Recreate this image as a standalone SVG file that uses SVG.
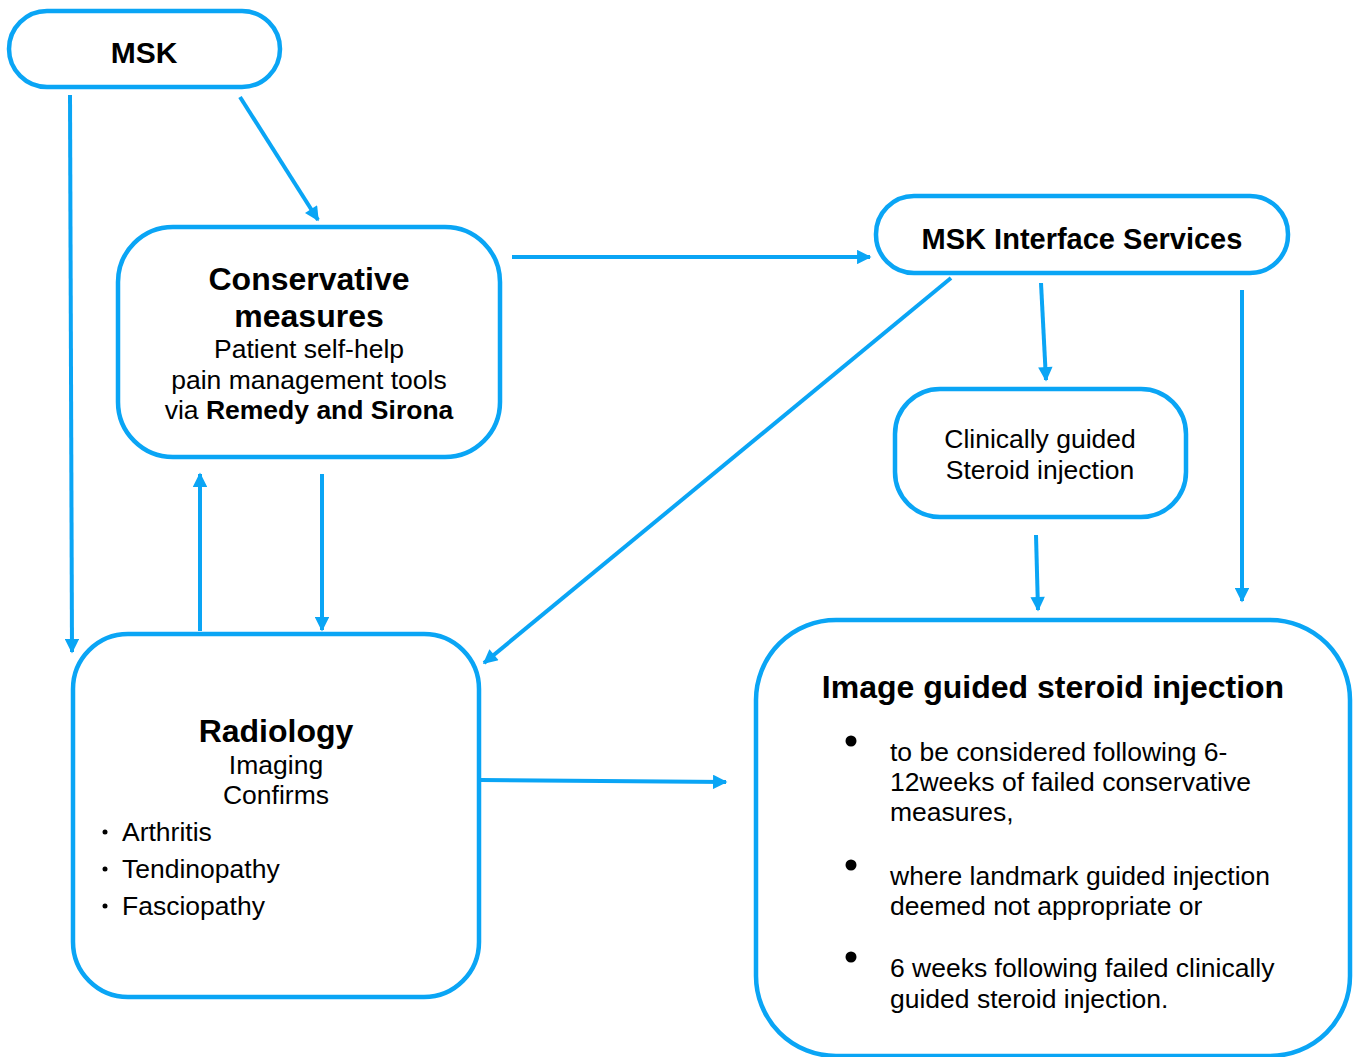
<svg xmlns="http://www.w3.org/2000/svg" width="1357" height="1057" viewBox="0 0 1357 1057">
<defs>
<style>
.box{fill:#fff;stroke:#0AA5F5;stroke-width:4.5}
.ln{stroke:#0AA5F5;stroke-width:4;fill:none;marker-end:url(#ah)}
text{font-family:"Liberation Sans",Arial,sans-serif;fill:#000}
.b{font-weight:bold}
.t{font-size:26.5px}
.h{font-size:32px;font-weight:bold}
.c{text-anchor:middle}
</style>
<marker id="ah" viewBox="0 0 10 10" refX="9" refY="5" markerWidth="4" markerHeight="3.6" orient="auto" markerUnits="strokeWidth">
<path d="M0,0 L10,5 L0,10 z" fill="#0AA5F5"/>
</marker>
</defs>
<rect width="1357" height="1057" fill="#fff"/>
<g id="connectors">
<line class="ln" x1="70" y1="95" x2="72" y2="652"/>
<line class="ln" x1="240" y1="97" x2="318" y2="220"/>
<line class="ln" x1="512" y1="257" x2="870" y2="257"/>
<line class="ln" x1="951" y1="278" x2="484" y2="663"/>
<line class="ln" x1="1041" y1="283" x2="1046" y2="380"/>
<line class="ln" x1="1242" y1="290" x2="1242" y2="601"/>
<line class="ln" x1="1036" y1="535" x2="1038" y2="610"/>
<line class="ln" x1="200" y1="631" x2="200" y2="474"/>
<line class="ln" x1="322" y1="474" x2="322" y2="630"/>
<line class="ln" x1="481" y1="780" x2="726" y2="782"/>
</g>
<g id="msk">
<rect class="box" x="9" y="11" width="271" height="76" rx="38"/>
<text class="b c" x="144" y="63" font-size="30">MSK</text>
</g>
<g id="conservative">
<rect class="box" x="118" y="227" width="382" height="230" rx="55"/>
<text class="h c" x="309" y="290">Conservative</text>
<text class="h c" x="309" y="327">measures</text>
<text class="t c" x="309" y="358">Patient self-help</text>
<text class="t c" x="309" y="389">pain management tools</text>
<text class="t c" x="309" y="419">via <tspan class="b">Remedy and Sirona</tspan></text>
</g>
<g id="interface">
<rect class="box" x="876" y="196" width="412" height="77" rx="38"/>
<text class="b c" x="1082" y="249" font-size="29">MSK Interface Services</text>
</g>
<g id="clinical">
<rect class="box" x="895" y="389" width="291" height="128" rx="45"/>
<text class="t c" x="1040" y="448">Clinically guided</text>
<text class="t c" x="1040" y="479">Steroid injection</text>
</g>
<g id="radiology">
<rect class="box" x="73" y="634" width="406" height="363" rx="55"/>
<text class="h c" x="276" y="742">Radiology</text>
<text class="t c" x="276" y="774">Imaging</text>
<text class="t c" x="276" y="804">Confirms</text>
<circle cx="105" cy="832" r="2.5"/><text class="t" x="122" y="841">Arthritis</text>
<circle cx="105" cy="869" r="2.5"/><text class="t" x="122" y="878">Tendinopathy</text>
<circle cx="105" cy="906" r="2.5"/><text class="t" x="122" y="915">Fasciopathy</text>
</g>
<g id="image-guided">
<rect class="box" x="756" y="620" width="594" height="436" rx="80"/>
<text class="h c" x="1053" y="698">Image guided steroid injection</text>
<circle cx="851" cy="741" r="5.5"/>
<circle cx="851" cy="865" r="5.5"/>
<circle cx="851" cy="957" r="5.5"/>
<text class="t" x="890" y="761">to be considered following 6-</text>
<text class="t" x="890" y="791">12weeks of failed conservative</text>
<text class="t" x="890" y="821">measures,</text>
<text class="t" x="890" y="885">where landmark guided injection</text>
<text class="t" x="890" y="915">deemed not appropriate or</text>
<text class="t" x="890" y="977">6 weeks following failed clinically</text>
<text class="t" x="890" y="1008">guided steroid injection.</text>
</g>
</svg>
